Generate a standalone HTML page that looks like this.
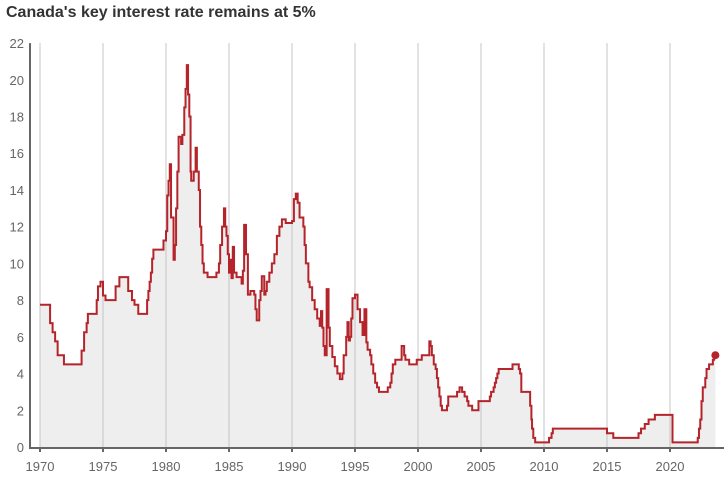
<!DOCTYPE html>
<html><head><meta charset="utf-8"><style>
body{margin:0;background:#fff;font-family:"Liberation Sans",sans-serif;}
#wrap{position:relative;width:724px;height:479px;overflow:hidden}
h1{position:absolute;left:6px;top:4px;margin:0;font-size:16px;font-weight:bold;color:#333}
</style></head><body>
<div id="wrap">
<h1>Canada's key interest rate remains at 5%</h1>
<svg id="svg" width="724" height="479" style="position:absolute;left:0;top:0"></svg>
</div>
<script>
const steps=[
[1970,7.75],[1970.8,6.75],[1971.0,6.25],[1971.2,5.75],[1971.4,5.0],[1971.9,4.5],
[1973.3,5.25],[1973.5,6.25],[1973.7,6.75],[1973.8,7.25],[1974.5,8.0],[1974.6,8.75],[1974.8,9.0],
[1975.0,8.25],[1975.2,8.0],[1976.0,8.75],[1976.3,9.25],[1977.0,8.5],[1977.3,8.0],[1977.5,7.75],[1977.8,7.25],
[1978.5,8.0],[1978.6,8.5],[1978.7,9.0],[1978.8,9.5],[1978.9,10.25],[1979.0,10.75],[1979.8,11.25],
[1980.0,11.75],[1980.1,13.7],[1980.2,14.5],[1980.3,15.4],[1980.4,12.5],[1980.6,10.2],[1980.7,11.0],[1980.8,13.0],[1980.9,15.0],
[1981.0,16.9],[1981.2,16.5],[1981.3,17.0],[1981.45,18.5],[1981.55,19.5],[1981.65,20.8],[1981.75,19.2],[1981.85,18.0],[1981.95,15.0],
[1982.0,14.5],[1982.2,15.0],[1982.35,16.3],[1982.45,15.0],[1982.6,14.0],[1982.7,12.0],[1982.8,11.0],[1982.9,10.0],
[1983.0,9.5],[1983.3,9.25],[1984.0,9.5],[1984.2,10.0],[1984.3,11.0],[1984.45,12.0],[1984.6,13.0],[1984.7,12.0],[1984.8,11.5],[1984.9,10.5],
[1985.0,9.5],[1985.1,10.2],[1985.2,9.2],[1985.3,10.9],[1985.4,9.5],[1985.6,9.25],
[1986.0,8.9],[1986.1,9.6],[1986.2,12.1],[1986.35,10.5],[1986.5,8.3],[1986.7,8.5],
[1987.0,8.3],[1987.1,7.5],[1987.2,6.9],[1987.4,8.0],[1987.5,8.5],[1987.6,9.3],[1987.8,8.3],[1987.9,8.5],
[1988.0,9.0],[1988.2,9.5],[1988.4,10.0],[1988.6,10.5],[1988.8,11.5],[1989.0,12.0],[1989.2,12.4],[1989.5,12.2],
[1990.0,12.3],[1990.15,13.5],[1990.3,13.8],[1990.45,13.3],[1990.6,12.5],[1990.9,12.0],
[1991.0,11.0],[1991.1,10.0],[1991.3,9.0],[1991.4,8.7],[1991.6,8.0],[1991.8,7.5],
[1992.0,7.0],[1992.2,6.6],[1992.3,7.4],[1992.4,6.5],[1992.5,5.5],[1992.6,5.0],[1992.75,8.6],[1992.9,6.5],
[1993.0,5.5],[1993.2,4.9],[1993.4,4.4],[1993.6,4.0],[1993.8,3.7],
[1994.0,4.0],[1994.1,5.0],[1994.3,6.0],[1994.4,6.8],[1994.5,5.8],[1994.6,6.0],[1994.7,7.0],[1994.8,8.1],
[1995.0,8.3],[1995.2,7.5],[1995.4,6.8],[1995.6,6.1],[1995.75,7.5],[1995.9,5.7],
[1996.0,5.3],[1996.2,5.0],[1996.3,4.5],[1996.45,4.0],[1996.6,3.5],[1996.75,3.25],[1996.9,3.0],
[1997.6,3.25],[1997.8,3.5],[1997.9,4.0],[1998.0,4.5],[1998.2,4.75],[1998.7,5.5],[1998.9,5.0],
[1999.0,4.75],[1999.3,4.5],[1999.9,4.75],[2000.3,5.0],[2000.9,5.75],
[2001.0,5.5],[2001.1,5.0],[2001.25,4.5],[2001.4,4.25],[2001.5,3.75],[2001.6,3.25],[2001.7,2.75],[2001.8,2.25],[2001.9,2.0],
[2002.3,2.25],[2002.4,2.75],[2003.1,3.0],[2003.3,3.25],[2003.5,3.0],[2003.7,2.75],[2003.9,2.5],
[2004.0,2.25],[2004.3,2.0],[2004.8,2.5],[2005.7,2.75],[2005.8,3.0],[2006.0,3.25],[2006.1,3.5],[2006.2,3.75],[2006.3,4.0],[2006.4,4.25],
[2007.5,4.5],[2008.0,4.25],[2008.1,4.0],[2008.2,3.0],[2008.9,2.25],
[2009.0,1.5],[2009.05,1.0],[2009.15,0.5],[2009.3,0.25],
[2010.4,0.5],[2010.6,0.75],[2010.7,1.0],
[2015.0,0.75],[2015.5,0.5],[2017.5,0.75],[2017.7,1.0],[2018.0,1.25],[2018.3,1.5],[2018.8,1.75],
[2020.2,0.25],[2022.2,0.5],[2022.3,1.0],[2022.4,1.5],[2022.5,2.5],[2022.6,3.25],[2022.8,3.75],[2022.9,4.25],
[2023.1,4.5],[2023.4,4.75],[2023.5,5.0]
];
const years=steps.map(p=>p[0]);
const rates=steps.map(p=>p[1]);
const endYear=2023.6;
const yTicks=[0,2,4,6,8,10,12,14,16,18,20,22];
const xTicks=[1970,1975,1980,1985,1990,1995,2000,2005,2010,2015,2020];
const NS="http://www.w3.org/2000/svg";
const svg=document.getElementById('svg');
const X=y=>40+(y-1970)*12.6;
const Y=v=>447-v*18.36;
function mk(t,a){const e=document.createElementNS(NS,t);for(const k in a)e.setAttribute(k,a[k]);svg.appendChild(e);return e;}
// build step points
const pts=[[X(years[0]),Y(rates[0])]];
for(let i=1;i<years.length;i++){pts.push([X(years[i]),Y(rates[i-1])]);pts.push([X(years[i]),Y(rates[i])]);}
pts.push([X(endYear),Y(rates[rates.length-1])]);
const lineD='M'+pts.map(p=>p[0].toFixed(2)+','+p[1].toFixed(2)).join(' L');
const areaD=lineD+' L'+X(endYear).toFixed(2)+','+Y(0)+' L'+X(years[0]).toFixed(2)+','+Y(0)+' Z';
const area=mk('path',{d:areaD,fill:'#eeeeee'});


// grid
xTicks.forEach(t=>{
 const g=mk('line',{x1:X(t),x2:X(t),y1:Y(22),y2:Y(0),stroke:'#c4c4c4','stroke-width':1});
 
 
});
const line=mk('path',{d:lineD,fill:'none',stroke:'#b5242a','stroke-width':2,'stroke-linejoin':'miter'});


const dot=mk('circle',{cx:X(endYear),cy:Y(rates[rates.length-1]),r:4,fill:'#b5242a'});


const ya=mk('line',{x1:30,x2:30,y1:Y(22),y2:Y(0)+1,stroke:'#666','stroke-width':2});


const xa=mk('line',{x1:29,x2:724,y1:Y(0)+1,y2:Y(0)+1,stroke:'#666','stroke-width':2});


yTicks.forEach(t=>{
 const e=mk('text',{x:24,y:Y(t)+5,'text-anchor':'end','font-size':13,fill:'#666','font-family':'Liberation Sans, sans-serif'});
 e.textContent=t;
 
 
});
xTicks.forEach(t=>{
 const k=mk('line',{x1:X(t),x2:X(t),y1:Y(0),y2:Y(0)+5,stroke:'#666','stroke-width':2});
 
 
 const e=mk('text',{x:X(t),y:471,'text-anchor':'middle','font-size':13,fill:'#666','font-family':'Liberation Sans, sans-serif'});
 e.textContent=t;
 
 
});
</script>
</body></html>
